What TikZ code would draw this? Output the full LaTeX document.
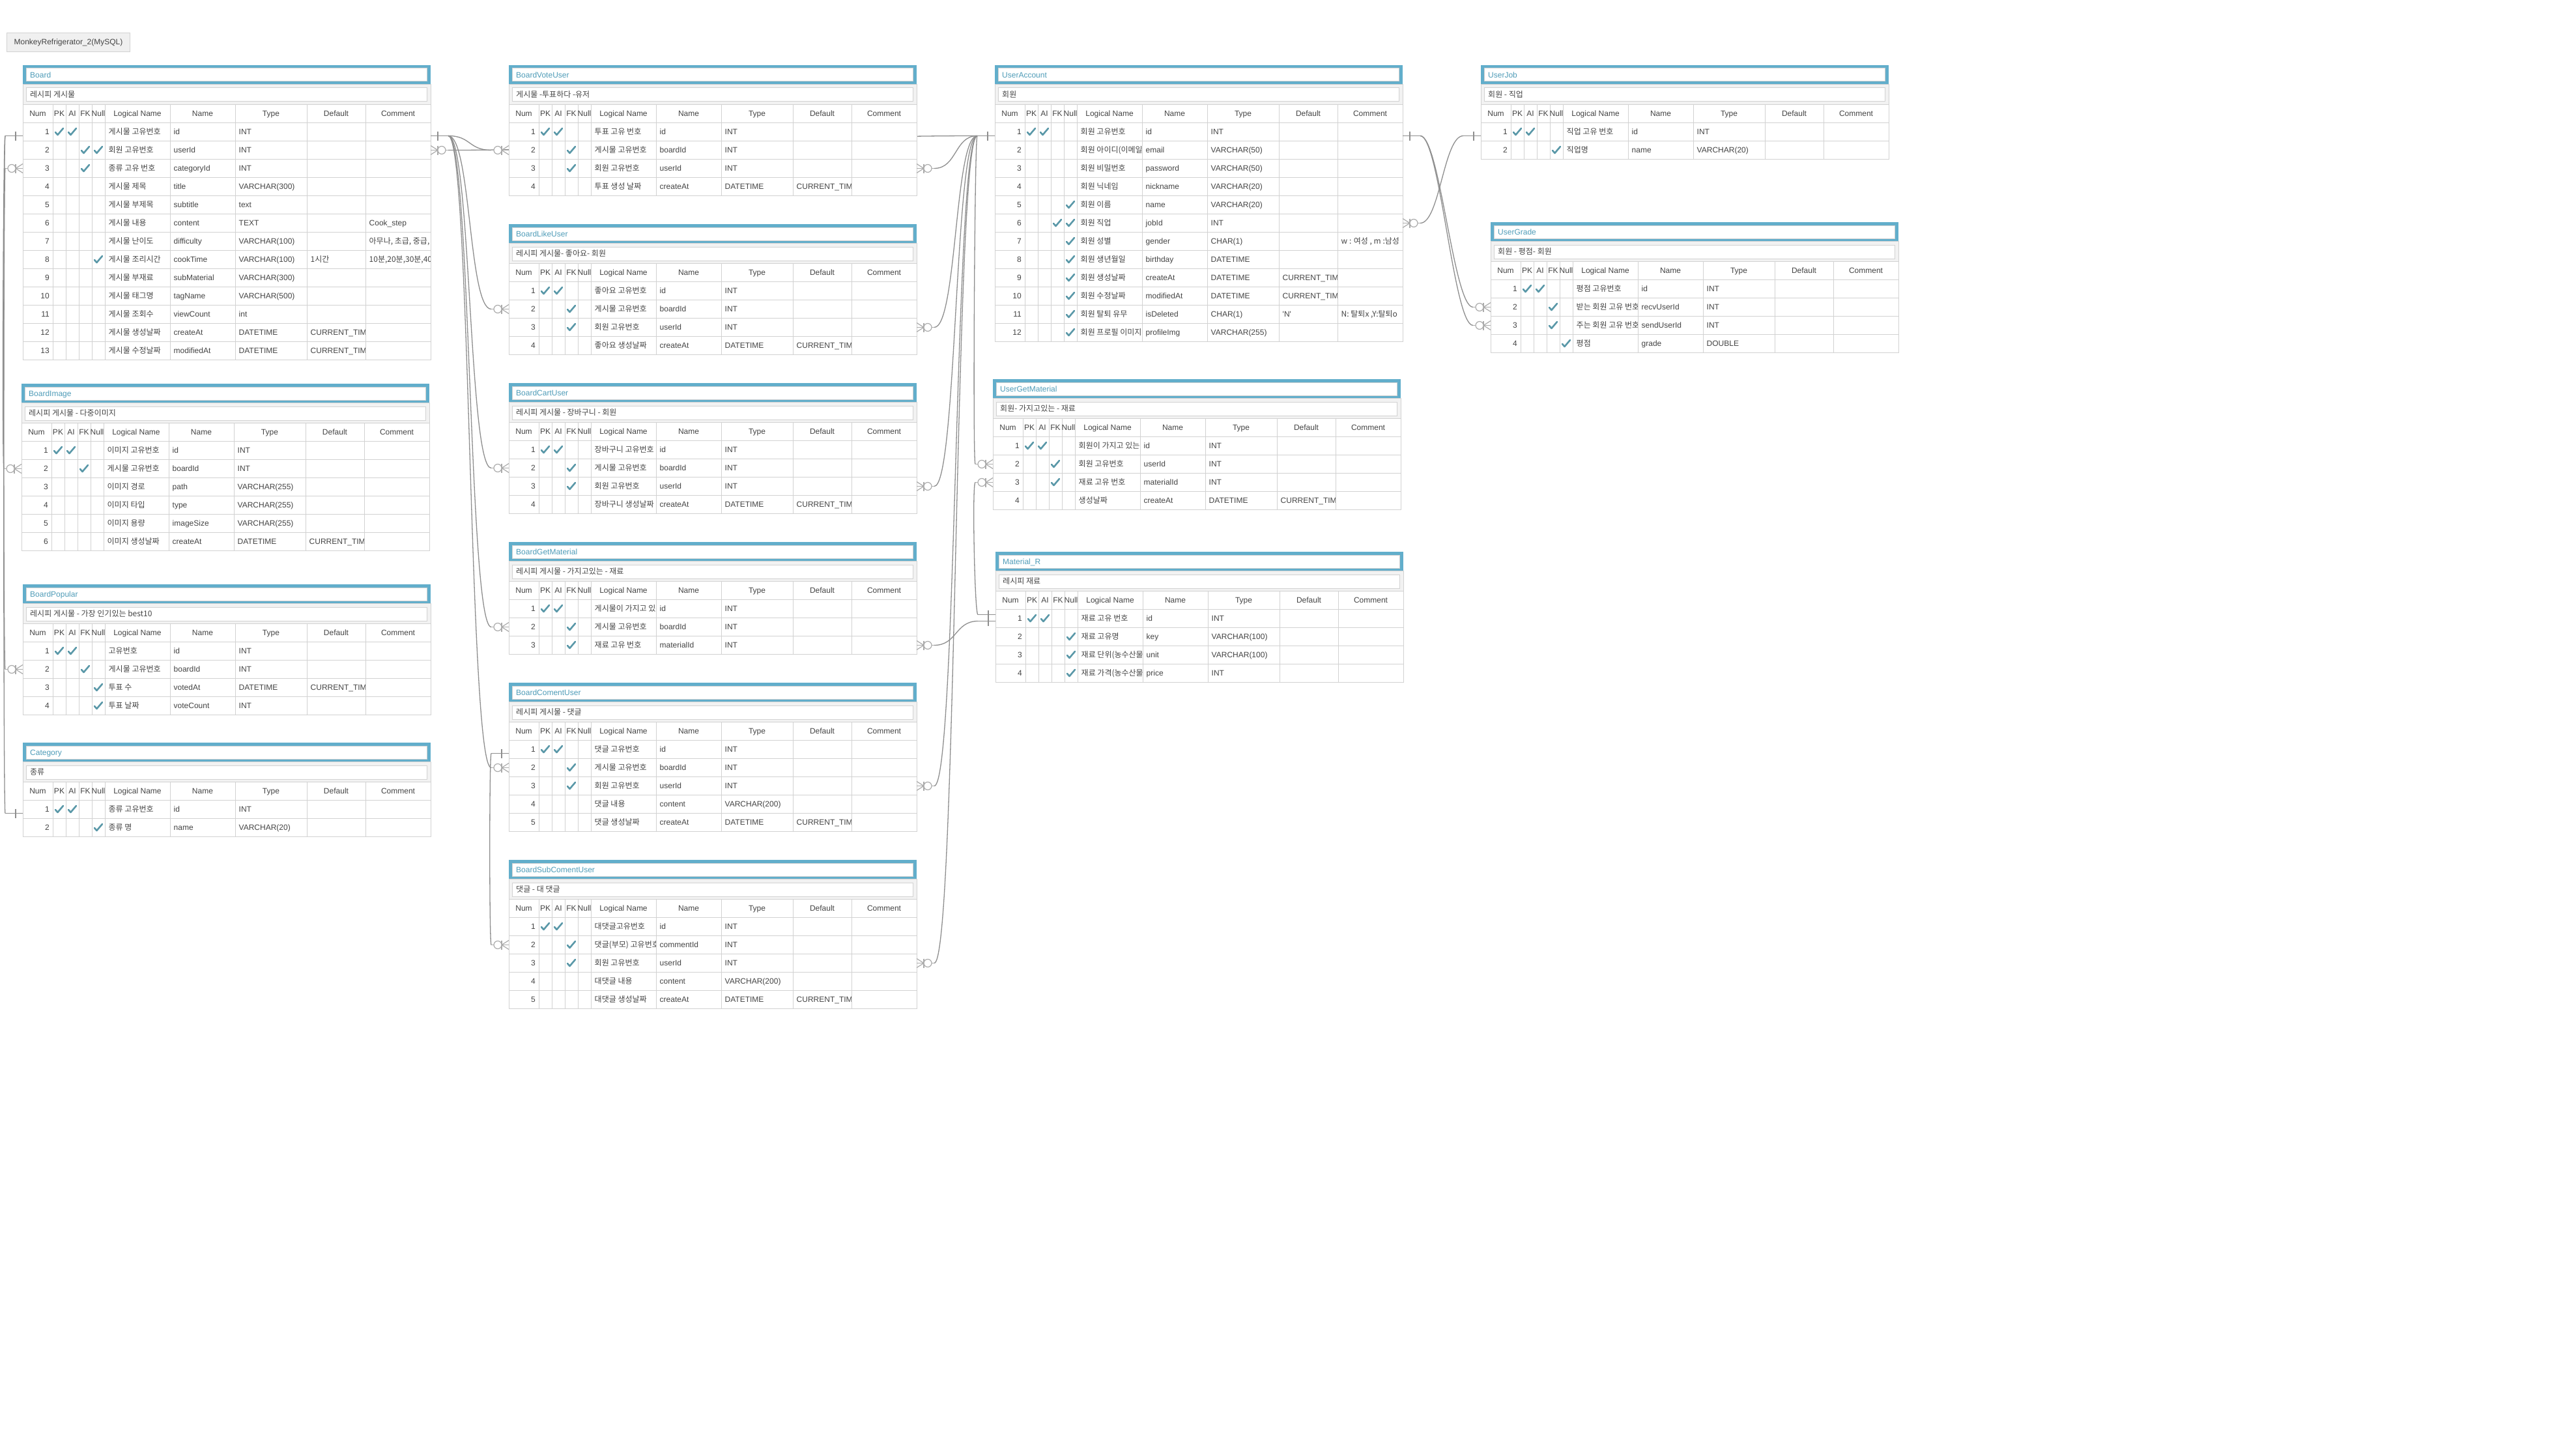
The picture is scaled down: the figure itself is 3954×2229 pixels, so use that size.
\documentclass[tikz,border=0pt]{standalone}
\usepackage{fontspec}
\setmainfont{Liberation Sans}
\newfontfamily\krfont{Noto Sans CJK KR}
\usetikzlibrary{calc}
\pgfdeclarelayer{back}
\pgfdeclarelayer{bg}
\pgfsetlayers{back,bg,main}

\definecolor{hdrblue}{HTML}{62AECB}
\definecolor{ttlteal}{HTML}{4F9CB8}
\definecolor{gridc}{HTML}{D2D2D2}
\definecolor{bandc}{HTML}{F2F2F2}
\definecolor{txtc}{HTML}{444444}
\definecolor{chkc}{HTML}{5A98A8}
\definecolor{linec}{HTML}{8E8E8E}
\definecolor{markc}{HTML}{ABABAB}
\definecolor{dbfill}{HTML}{F0F0F0}

\newcounter{rowno}
\newcommand\fs{\fontsize{12}{14}\selectfont}
\newcommand\curts{CURRENT\_TIMESTAMP}

\tikzset{
  tblframe/.style={fill=hdrblue, inner sep=0pt, outer sep=0pt, minimum width=626pt, minimum height=29.5pt},
  inbox/.style={draw=gridc, fill=white, line width=1pt},
  band/.style={fill=bandc, draw=gridc, line width=1pt, inner sep=0pt, outer sep=0pt, minimum width=626pt, minimum height=31pt},
  rowbox/.style={fill=white, draw=gridc, line width=1pt, inner sep=0pt, outer sep=0pt, minimum width=626pt, minimum height=28pt},
  grid/.style={draw=gridc, line width=1pt},
  celltxt/.style={font=\fs, text=txtc, inner sep=0pt},
  ttltxt/.style={font=\fs, text=ttlteal, inner sep=0pt},
  chk/.style={draw=chkc, line width=2.6pt, line cap=round, line join=round},
  conn/.style={draw=linec, line width=1.3pt},
  onemk/.style={draw=linec, line width=1.3pt},
  manymk/.style={draw=markc, line width=1.2pt},
  dbbox/.style={fill=dbfill, draw=gridc, line width=1pt, font=\fs, text=txtc, minimum width=189pt, minimum height=29pt, inner sep=0pt}
}

% table header: name, left, top, title, description
\newcommand\erdtable[5]{%
  \def\tP{#1}\def\tL{#2}\def\tT{#3}\setcounter{rowno}{0}%
  \node[tblframe, anchor=north west] (#1) at (#2,#3) {};
  \draw[inbox] ({#2+5.5},{#3+5}) rectangle ({#2+620.5},{#3+25});
  \node[ttltxt, anchor=base west] (#1-name) at ({#2+11},{#3+19.3}) {#4};
  \node[band, anchor=north west] (#1-band) at (#2,{#3+29.5}) {};
  \draw[inbox] ({#2+5.5},{#3+35}) rectangle ({#2+620.5},{#3+56});
  \node[celltxt, anchor=base west] (#1-desc) at ({#2+11},{#3+49.8}) {\krfont #5};
  \node[rowbox, anchor=north west] (#1-head) at (#2,{#3+60.5}) {};
  \foreach \cx in {46,66,86,106,126,226,326,436,526}
    \draw[grid] ({#2+\cx},{#3+60.5}) -- ++(0,28);
  \foreach \cx/\lab/\tg in {23/Num/num,56/PK/pk,76/AI/ai,96/FK/fk,116/Null/nl,
      176/Logical Name/lname,276/Name/pname,381/Type/type,481/Default/dflt,576/Comment/cmt}
    \node[celltxt, anchor=base] (#1-h-\tg) at ({#2+\cx},{#3+78.8}) {\lab};
}

\newcommand\chkat[1]{%
  \draw[chk] ({\tL+#1-6},{\rc+0.5}) -- ({\tL+#1-2.5},{\rc+4.5}) -- ({\tL+#1+6},{\rc-5.5});}
\def\doflags#1#2#3#4{%
  \ifnum#1=1 \chkat{56}\fi
  \ifnum#2=1 \chkat{76}\fi
  \ifnum#3=1 \chkat{96}\fi
  \ifnum#4=1 \chkat{116}\fi}

\newcommand\celltext[4]{%
  \begin{scope}
    \clip ({\tL+#1+1},\rt) rectangle ({\tL+#2-1},{\rt+28});
    \node[celltxt, anchor=base west] (\tP-\arabic{rowno}-#3) at ({\tL+#1+5.5},{\rc+4.3}) {#4};
  \end{scope}}

% row: num, flags (PK AI FK Null), logical name, name, type, default, comment
\newcommand\erdrow[7]{%
  \stepcounter{rowno}%
  \pgfmathsetmacro\rt{\tT+88.5+28*(\the\value{rowno}-1)}%
  \pgfmathsetmacro\rc{\rt+14}%
  \node[rowbox, anchor=north west] (\tP-\arabic{rowno}) at (\tL,\rt) {};
  \foreach \cx in {46,66,86,106,126,226,326,436,526}
    \draw[grid] ({\tL+\cx},\rt) -- ++(0,28);
  \node[celltxt, anchor=base east] (\tP-\arabic{rowno}-num) at ({\tL+41},{\rc+4.3}) {#1};
  \doflags#2%
  \celltext{126}{226}{lname}{\krfont #3}%
  \celltext{226}{326}{pname}{#4}%
  \celltext{326}{436}{type}{#5}%
  \celltext{436}{526}{dflt}{#6}%
  \celltext{526}{626}{cmt}{#7}%
}

% relationship ends: edge point, direction (1 right, -1 left), stub-end name
\newcommand\oneend[3]{%
  \path (#1) coordinate (tmpe);
  \draw[onemk] (tmpe) -- ++({27*(#2)},0) coordinate (#3);
  \draw[onemk] ($(tmpe)+({11*(#2)},-7)$) -- ++(0,14);}
\newcommand\manyend[3]{%
  \path (#1) coordinate (tmpe);
  \draw[manymk] ($(tmpe)+(0,-7)$) -- ($(tmpe)+({11*(#2)},0)$) -- ($(tmpe)+(0,7)$);
  \draw[manymk] (tmpe) -- ++({11*(#2)},0);
  \draw[manymk] ($(tmpe)+({11*(#2)},-7)$) -- ++(0,14);
  \draw[manymk, fill=white] ($(tmpe)+({17*(#2)},0)$) circle (6pt);
  \draw[manymk] ($(tmpe)+({23*(#2)},0)$) -- ++({4*(#2)},0) coordinate (#3);}

\begin{document}
\begin{tikzpicture}[x=1pt,y=-1pt]
\useasboundingbox (0,0) rectangle (3954,2229);
\begin{pgfonlayer}{back}
  \fill[white] (0,0) rectangle (3954,2229);
\end{pgfonlayer}

\node[dbbox, anchor=north west] (dbname) at (10,50) {MonkeyRefrigerator\_2(MySQL)};

% ---------- first column ----------
\erdtable{Board}{35}{100}{Board}{레시피 게시물}
\erdrow{1}{1100}{게시물 고유번호}{id}{INT}{}{}
\erdrow{2}{0011}{회원 고유번호}{userId}{INT}{}{}
\erdrow{3}{0010}{종류 고유 번호}{categoryId}{INT}{}{}
\erdrow{4}{0000}{게시물 제목}{title}{VARCHAR(300)}{}{}
\erdrow{5}{0000}{게시물 부제목}{subtitle}{text}{}{}
\erdrow{6}{0000}{게시물 내용}{content}{TEXT}{}{Cook\_step}
\erdrow{7}{0000}{게시물 난이도}{difficulty}{VARCHAR(100)}{}{\krfont 아무나, 초급, 중급, 고급}
\erdrow{8}{0001}{게시물 조리시간}{cookTime}{VARCHAR(100)}{\krfont 1시간}{\krfont 10분,20분,30분,40분}
\erdrow{9}{0000}{게시물 부재료}{subMaterial}{VARCHAR(300)}{}{}
\erdrow{10}{0000}{게시물 태그명}{tagName}{VARCHAR(500)}{}{}
\erdrow{11}{0000}{게시물 조회수}{viewCount}{int}{}{}
\erdrow{12}{0000}{게시물 생성날짜}{createAt}{DATETIME}{\curts}{}
\erdrow{13}{0000}{게시물 수정날짜}{modifiedAt}{DATETIME}{\curts}{}

\erdtable{BoardImage}{33}{589}{BoardImage}{레시피 게시물 - 다중이미지}
\erdrow{1}{1100}{이미지 고유번호}{id}{INT}{}{}
\erdrow{2}{0010}{게시물 고유번호}{boardId}{INT}{}{}
\erdrow{3}{0000}{이미지 경로}{path}{VARCHAR(255)}{}{}
\erdrow{4}{0000}{이미지 타입}{type}{VARCHAR(255)}{}{}
\erdrow{5}{0000}{이미지 용량}{imageSize}{VARCHAR(255)}{}{}
\erdrow{6}{0000}{이미지 생성날짜}{createAt}{DATETIME}{\curts}{}

\erdtable{BoardPopular}{35}{897}{BoardPopular}{레시피 게시물 - 가장 인기있는 best10}
\erdrow{1}{1100}{고유번호}{id}{INT}{}{}
\erdrow{2}{0010}{게시물 고유번호}{boardId}{INT}{}{}
\erdrow{3}{0001}{투표 수}{votedAt}{DATETIME}{\curts}{}
\erdrow{4}{0001}{투표 날짜}{voteCount}{INT}{}{}

\erdtable{Category}{35}{1140}{Category}{종류}
\erdrow{1}{1100}{종류 고유번호}{id}{INT}{}{}
\erdrow{2}{0001}{종류 명}{name}{VARCHAR(20)}{}{}

% ---------- second column ----------
\erdtable{BoardVoteUser}{781}{100}{BoardVoteUser}{게시물 -투표하다 -유저}
\erdrow{1}{1100}{투표 고유 번호}{id}{INT}{}{}
\erdrow{2}{0010}{게시물 고유번호}{boardId}{INT}{}{}
\erdrow{3}{0010}{회원 고유번호}{userId}{INT}{}{}
\erdrow{4}{0000}{투표 생성 날짜}{createAt}{DATETIME}{\curts}{}

\erdtable{BoardLikeUser}{781}{344}{BoardLikeUser}{레시피 게시물- 좋아요- 회원}
\erdrow{1}{1100}{좋아요 고유번호}{id}{INT}{}{}
\erdrow{2}{0010}{게시물 고유번호}{boardId}{INT}{}{}
\erdrow{3}{0010}{회원 고유번호}{userId}{INT}{}{}
\erdrow{4}{0000}{좋아요 생성날짜}{createAt}{DATETIME}{\curts}{}

\erdtable{BoardCartUser}{781}{588}{BoardCartUser}{레시피 게시물 - 장바구니 - 회원}
\erdrow{1}{1100}{장바구니 고유번호}{id}{INT}{}{}
\erdrow{2}{0010}{게시물 고유번호}{boardId}{INT}{}{}
\erdrow{3}{0010}{회원 고유번호}{userId}{INT}{}{}
\erdrow{4}{0000}{장바구니 생성날짜}{createAt}{DATETIME}{\curts}{}

\erdtable{BoardGetMaterial}{781}{832}{BoardGetMaterial}{레시피 게시물 - 가지고있는 - 재료}
\erdrow{1}{1100}{게시물이 가지고 있는}{id}{INT}{}{}
\erdrow{2}{0010}{게시물 고유번호}{boardId}{INT}{}{}
\erdrow{3}{0010}{재료 고유 번호}{materialId}{INT}{}{}

\erdtable{BoardComentUser}{781}{1048}{BoardComentUser}{레시피 게시물 - 댓글}
\erdrow{1}{1100}{댓글 고유번호}{id}{INT}{}{}
\erdrow{2}{0010}{게시물 고유번호}{boardId}{INT}{}{}
\erdrow{3}{0010}{회원 고유번호}{userId}{INT}{}{}
\erdrow{4}{0000}{댓글 내용}{content}{VARCHAR(200)}{}{}
\erdrow{5}{0000}{댓글 생성날짜}{createAt}{DATETIME}{\curts}{}

\erdtable{BoardSubComentUser}{781}{1320}{BoardSubComentUser}{댓글 - 대 댓글}
\erdrow{1}{1100}{대댓글고유번호}{id}{INT}{}{}
\erdrow{2}{0010}{댓글(부모) 고유번호}{commentId}{INT}{}{}
\erdrow{3}{0010}{회원 고유번호}{userId}{INT}{}{}
\erdrow{4}{0000}{대댓글 내용}{content}{VARCHAR(200)}{}{}
\erdrow{5}{0000}{대댓글 생성날짜}{createAt}{DATETIME}{\curts}{}

% ---------- third column ----------
\erdtable{UserAccount}{1527}{100}{UserAccount}{회원}
\erdrow{1}{1100}{회원 고유번호}{id}{INT}{}{}
\erdrow{2}{0000}{회원 아이디(이메일)}{email}{VARCHAR(50)}{}{}
\erdrow{3}{0000}{회원 비밀번호}{password}{VARCHAR(50)}{}{}
\erdrow{4}{0000}{회원 닉네임}{nickname}{VARCHAR(20)}{}{}
\erdrow{5}{0001}{회원 이름}{name}{VARCHAR(20)}{}{}
\erdrow{6}{0011}{회원 직업}{jobId}{INT}{}{}
\erdrow{7}{0001}{회원 성별}{gender}{CHAR(1)}{}{\krfont w : 여성 , m :남성}
\erdrow{8}{0001}{회원 생년월일}{birthday}{DATETIME}{}{}
\erdrow{9}{0001}{회원 생성날짜}{createAt}{DATETIME}{\curts}{}
\erdrow{10}{0001}{회원 수정날짜}{modifiedAt}{DATETIME}{\curts}{}
\erdrow{11}{0001}{회원 탈퇴 유무}{isDeleted}{CHAR(1)}{\textquotesingle N\textquotesingle}{\krfont N: 탈퇴x ,Y:탈퇴o}
\erdrow{12}{0001}{회원 프로필 이미지}{profileImg}{VARCHAR(255)}{}{}

\erdtable{UserGetMaterial}{1524}{582}{UserGetMaterial}{회원- 가지고있는 - 재료}
\erdrow{1}{1100}{회원이 가지고 있는}{id}{INT}{}{}
\erdrow{2}{0010}{회원 고유번호}{userId}{INT}{}{}
\erdrow{3}{0010}{재료 고유 번호}{materialId}{INT}{}{}
\erdrow{4}{0000}{생성날짜}{createAt}{DATETIME}{\curts}{}

\erdtable{MaterialR}{1528}{847}{Material\_R}{레시피 재료}
\erdrow{1}{1100}{재료 고유 번호}{id}{INT}{}{}
\erdrow{2}{0001}{재료 고유명}{key}{VARCHAR(100)}{}{}
\erdrow{3}{0001}{재료 단위(농수산물)}{unit}{VARCHAR(100)}{}{}
\erdrow{4}{0001}{재료 가격(농수산물)}{price}{INT}{}{}

% ---------- fourth column ----------
\erdtable{UserJob}{2273}{100}{UserJob}{회원 - 직업}
\erdrow{1}{1100}{직업 고유 번호}{id}{INT}{}{}
\erdrow{2}{0001}{직업명}{name}{VARCHAR(20)}{}{}

\erdtable{UserGrade}{2288}{341}{UserGrade}{회원 - 평점- 회원}
\erdrow{1}{1100}{평점 고유번호}{id}{INT}{}{}
\erdrow{2}{0010}{받는 회원 고유 번호}{recvUserId}{INT}{}{}
\erdrow{3}{0010}{주는 회원 고유 번호}{sendUserId}{INT}{}{}
\erdrow{4}{0001}{평점}{grade}{DOUBLE}{}{}

% ---------- relationship ends ----------
\oneend{$(Board-1.east)+(0,6)$}{1}{bidR}
\oneend{$(Board-1.west)+(0,6)$}{-1}{bidL}
\oneend{$(Category-1.west)+(0,6)$}{-1}{catL}
\oneend{$(BoardComentUser-1.west)+(0,6)$}{-1}{cmtL}
\oneend{$(UserAccount-1.west)+(0,6)$}{-1}{uidL}
\oneend{$(UserAccount-1.east)+(0,6)$}{1}{uidR}
\oneend{$(UserJob-1.west)+(0,6)$}{-1}{jobL}
\oneend{$(MaterialR-1.west)+(0,-6)$}{-1}{matLa}
\oneend{$(MaterialR-1.west)+(0,4)$}{-1}{matLb}

\manyend{Board-2.east}{1}{buE}
\manyend{Board-3.west}{-1}{bcW}
\manyend{BoardImage-2.west}{-1}{ibW}
\manyend{BoardPopular-2.west}{-1}{pbW}
\manyend{BoardVoteUser-2.west}{-1}{vbW}
\manyend{BoardVoteUser-3.east}{1}{vuE}
\manyend{BoardLikeUser-2.west}{-1}{lbW}
\manyend{BoardLikeUser-3.east}{1}{luE}
\manyend{BoardCartUser-2.west}{-1}{cbW}
\manyend{BoardCartUser-3.east}{1}{cuE}
\manyend{BoardGetMaterial-2.west}{-1}{gbW}
\manyend{BoardGetMaterial-3.east}{1}{gmE}
\manyend{BoardComentUser-2.west}{-1}{mbW}
\manyend{BoardComentUser-3.east}{1}{muE}
\manyend{BoardSubComentUser-2.west}{-1}{scW}
\manyend{BoardSubComentUser-3.east}{1}{suE}
\manyend{UserAccount-6.east}{1}{ujE}
\manyend{UserGetMaterial-2.west}{-1}{guW}
\manyend{UserGetMaterial-3.west}{-1}{gmW}
\manyend{UserGrade-2.west}{-1}{grW}
\manyend{UserGrade-3.west}{-1}{gsW}

% ---------- relationship lines ----------
\begin{pgfonlayer}{bg}
  % Board.id -> child tables
  \foreach \t in {vbW,lbW,cbW,gbW,mbW}
    \draw[conn] (bidR) .. controls +(35,0) and +(-35,0) .. (\t);
  \foreach \t in {ibW,pbW}
    \draw[conn] (bidL) .. controls +(-3,0) and +(-3,0) .. (\t);
  % Category.id -> Board.categoryId
  \draw[conn] (catL) .. controls +(-3,0) and +(-3,0) .. (bcW);
  % BoardComentUser.id -> BoardSubComentUser.commentId
  \draw[conn] (cmtL) .. controls +(-3,0) and +(-3,0) .. (scW);
  % UserAccount.id -> user references
  \foreach \t in {vuE,luE,cuE,muE,suE}
    \draw[conn] (uidL) .. controls +(-35,0) and +(35,0) .. (\t);
  \draw[conn] (uidL) .. controls +(-300,0) and +(300,0) .. (buE);
  \draw[conn] (uidL) .. controls +(-4,0) and +(-4,0) .. (guW);
  \foreach \t in {grW,gsW}
    \draw[conn] (uidR) .. controls +(30,0) and +(-30,0) .. (\t);
  % UserJob.id -> UserAccount.jobId
  \draw[conn] (jobL) .. controls +(-30,0) and +(30,0) .. (ujE);
  % Material_R.id -> material references
  \draw[conn] (matLa) .. controls +(-5,0) and +(-5,0) .. (gmW);
  \draw[conn] (matLb) .. controls +(-35,0) and +(35,0) .. (gmE);
\end{pgfonlayer}
\end{tikzpicture}
\end{document}
